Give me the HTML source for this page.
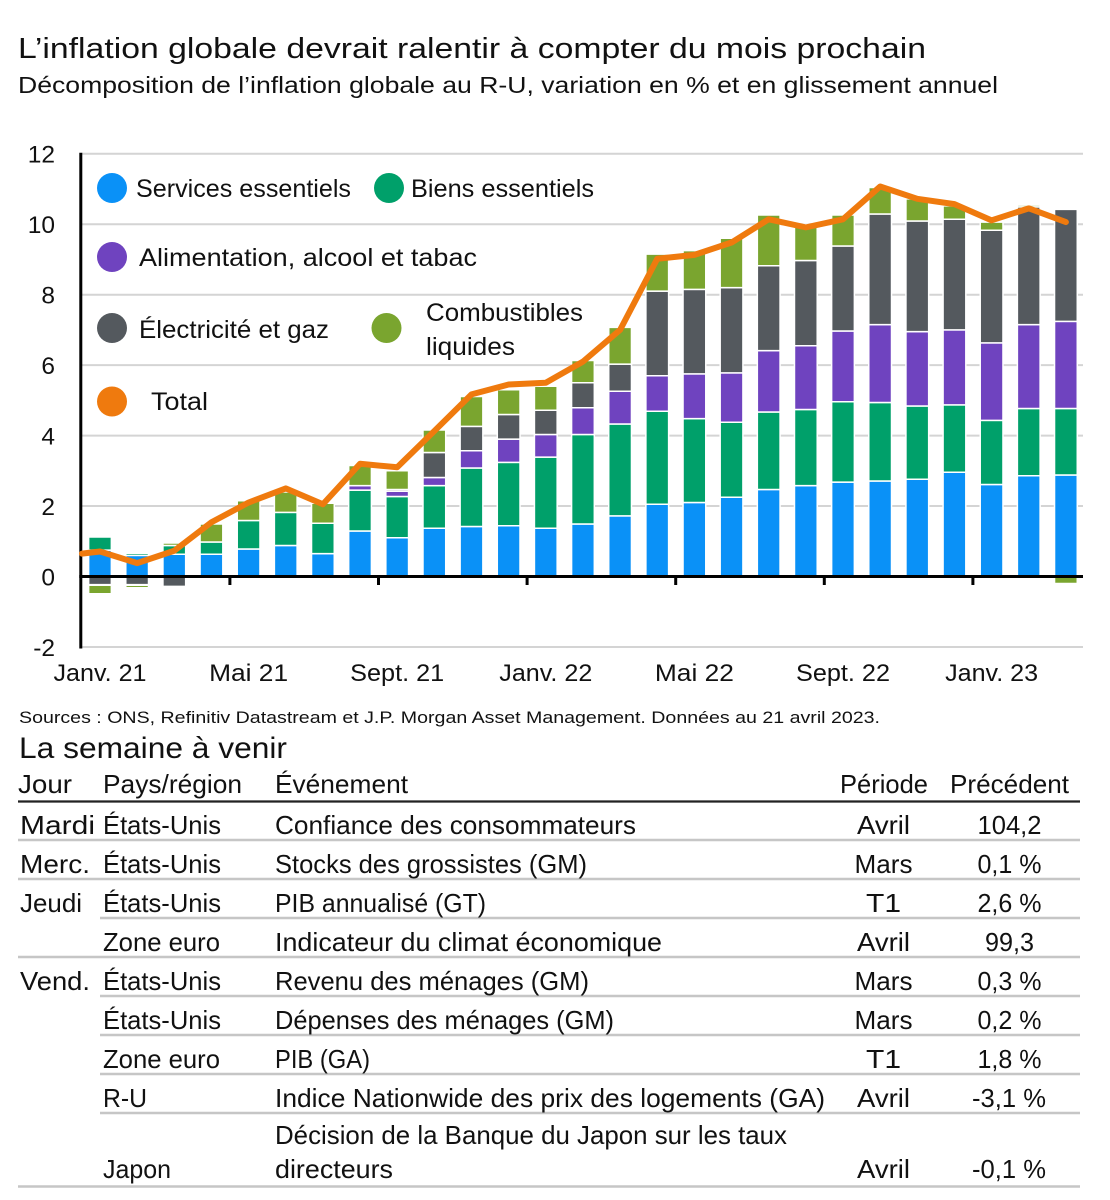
<!DOCTYPE html>
<html>
<head>
<meta charset="utf-8">
<style>
  html,body{margin:0;padding:0;background:#fff;}
  svg{display:block;}
  .b{fill:#0A91F7}
  .g{fill:#00A06A}
  .p{fill:#6F43BF}
  .k{fill:#54595E}
  .o{fill:#7AA52F}
  .bars rect{stroke:#fff;stroke-width:1.5;vector-effect:non-scaling-stroke;}
  text{fill:#111;}
</style>
</head>
<body>
<svg width="1110" height="1200" viewBox="0 0 1110 1200" xmlns="http://www.w3.org/2000/svg" font-family="'Liberation Sans', Arial, sans-serif">
  <rect x="0" y="0" width="1110" height="1200" fill="#fff"/>

  <!-- Title -->
  <text x="18" y="58" font-size="29" textLength="908" lengthAdjust="spacingAndGlyphs">L’inflation globale devrait ralentir à compter du mois prochain</text>
  <text x="18" y="93" font-size="23" textLength="980" lengthAdjust="spacingAndGlyphs">Décomposition de l’inflation globale au R-U, variation en % et en glissement annuel</text>

  <!-- Gridlines -->
  <g stroke="#D4D4D4" stroke-width="2">
    <line x1="82" y1="153.7" x2="1083" y2="153.7"/>
    <line x1="82" y1="224.2" x2="1083" y2="224.2"/>
    <line x1="82" y1="294.7" x2="1083" y2="294.7"/>
    <line x1="82" y1="365.1" x2="1083" y2="365.1"/>
    <line x1="82" y1="435.6" x2="1083" y2="435.6"/>
    <line x1="82" y1="506.0" x2="1083" y2="506.0"/>
    <line x1="82" y1="647.0" x2="1083" y2="647.0"/>
  </g>

  <!-- Y labels -->
  <g font-size="24.5" text-anchor="end">
    <text x="55" y="162.5">12</text>
    <text x="55" y="233">10</text>
    <text x="55" y="303.5">8</text>
    <text x="55" y="374">6</text>
    <text x="55" y="444.5">4</text>
    <text x="55" y="515">2</text>
    <text x="55" y="585.5">0</text>
    <text x="55" y="656">-2</text>
  </g>

  <!-- Bars and line (data coordinates) -->
  <g class="bars" transform="translate(100,576.5) scale(37.15,-35.23)">
    <!-- 0 -->
    <rect class="b" x="-0.306" y="0" width="0.612" height="0.75"/>
    <rect class="g" x="-0.306" y="0.75" width="0.612" height="0.37"/>
    <rect class="k" x="-0.306" y="-0.23" width="0.612" height="0.23"/>
    <rect class="o" x="-0.306" y="-0.49" width="0.612" height="0.24"/>
    <!-- 1 -->
    <rect class="b" x="0.694" y="0" width="0.612" height="0.6"/>
    <rect class="g" x="0.694" y="0.6" width="0.612" height="0.06"/>
    <rect class="k" x="0.694" y="-0.23" width="0.612" height="0.23"/>
    <rect class="o" x="0.694" y="-0.32" width="0.612" height="0.07"/>
    <!-- 2 -->
    <rect class="b" x="1.694" y="0" width="0.612" height="0.63"/>
    <rect class="g" x="1.694" y="0.63" width="0.612" height="0.25"/>
    <rect class="o" x="1.694" y="0.88" width="0.612" height="0.07"/>
    <rect class="k" x="1.694" y="-0.28" width="0.612" height="0.28"/>
    <!-- 3 -->
    <rect class="b" x="2.694" y="0" width="0.612" height="0.63"/>
    <rect class="g" x="2.694" y="0.63" width="0.612" height="0.35"/>
    <rect class="o" x="2.694" y="0.98" width="0.612" height="0.51"/>
    <!-- 4 -->
    <rect class="b" x="3.694" y="0" width="0.612" height="0.78"/>
    <rect class="g" x="3.694" y="0.78" width="0.612" height="0.81"/>
    <rect class="o" x="3.694" y="1.59" width="0.612" height="0.56"/>
    <!-- 5 -->
    <rect class="b" x="4.694" y="0" width="0.612" height="0.88"/>
    <rect class="g" x="4.694" y="0.88" width="0.612" height="0.94"/>
    <rect class="o" x="4.694" y="1.82" width="0.612" height="0.58"/>
    <!-- 6 -->
    <rect class="b" x="5.694" y="0" width="0.612" height="0.65"/>
    <rect class="g" x="5.694" y="0.65" width="0.612" height="0.86"/>
    <rect class="o" x="5.694" y="1.51" width="0.612" height="0.57"/>
    <!-- 7 -->
    <rect class="b" x="6.694" y="0" width="0.612" height="1.29"/>
    <rect class="g" x="6.694" y="1.29" width="0.612" height="1.16"/>
    <rect class="p" x="6.694" y="2.45" width="0.612" height="0.13"/>
    <rect class="o" x="6.694" y="2.58" width="0.612" height="0.57"/>
    <!-- 8 -->
    <rect class="b" x="7.694" y="0" width="0.612" height="1.1"/>
    <rect class="g" x="7.694" y="1.1" width="0.612" height="1.17"/>
    <rect class="p" x="7.694" y="2.27" width="0.612" height="0.15"/>
    <rect class="k" x="7.694" y="2.42" width="0.612" height="0.05"/>
    <rect class="o" x="7.694" y="2.47" width="0.612" height="0.53"/>
    <!-- 9 -->
    <rect class="b" x="8.694" y="0" width="0.612" height="1.37"/>
    <rect class="g" x="8.694" y="1.37" width="0.612" height="1.21"/>
    <rect class="p" x="8.694" y="2.58" width="0.612" height="0.23"/>
    <rect class="k" x="8.694" y="2.81" width="0.612" height="0.71"/>
    <rect class="o" x="8.694" y="3.52" width="0.612" height="0.64"/>
    <!-- 10 -->
    <rect class="b" x="9.694" y="0" width="0.612" height="1.42"/>
    <rect class="g" x="9.694" y="1.42" width="0.612" height="1.66"/>
    <rect class="p" x="9.694" y="3.08" width="0.612" height="0.49"/>
    <rect class="k" x="9.694" y="3.57" width="0.612" height="0.69"/>
    <rect class="o" x="9.694" y="4.26" width="0.612" height="0.85"/>
    <!-- 11 -->
    <rect class="b" x="10.694" y="0" width="0.612" height="1.44"/>
    <rect class="g" x="10.694" y="1.44" width="0.612" height="1.8"/>
    <rect class="p" x="10.694" y="3.24" width="0.612" height="0.66"/>
    <rect class="k" x="10.694" y="3.9" width="0.612" height="0.7"/>
    <rect class="o" x="10.694" y="4.6" width="0.612" height="0.7"/>
    <!-- 12 -->
    <rect class="b" x="11.694" y="0" width="0.612" height="1.37"/>
    <rect class="g" x="11.694" y="1.37" width="0.612" height="2.02"/>
    <rect class="p" x="11.694" y="3.39" width="0.612" height="0.64"/>
    <rect class="k" x="11.694" y="4.03" width="0.612" height="0.69"/>
    <rect class="o" x="11.694" y="4.72" width="0.612" height="0.68"/>
    <!-- 13 -->
    <rect class="b" x="12.694" y="0" width="0.612" height="1.49"/>
    <rect class="g" x="12.694" y="1.49" width="0.612" height="2.54"/>
    <rect class="p" x="12.694" y="4.03" width="0.612" height="0.76"/>
    <rect class="k" x="12.694" y="4.79" width="0.612" height="0.71"/>
    <rect class="o" x="12.694" y="5.5" width="0.612" height="0.63"/>
    <!-- 14 -->
    <rect class="b" x="13.694" y="0" width="0.612" height="1.72"/>
    <rect class="g" x="13.694" y="1.72" width="0.612" height="2.61"/>
    <rect class="p" x="13.694" y="4.33" width="0.612" height="0.93"/>
    <rect class="k" x="13.694" y="5.26" width="0.612" height="0.77"/>
    <rect class="o" x="13.694" y="6.03" width="0.612" height="1.04"/>
    <!-- 15 -->
    <rect class="b" x="14.694" y="0" width="0.612" height="2.05"/>
    <rect class="g" x="14.694" y="2.05" width="0.612" height="2.64"/>
    <rect class="p" x="14.694" y="4.69" width="0.612" height="1.01"/>
    <rect class="k" x="14.694" y="5.7" width="0.612" height="2.4"/>
    <rect class="o" x="14.694" y="8.1" width="0.612" height="1.05"/>
    <!-- 16 -->
    <rect class="b" x="15.694" y="0" width="0.612" height="2.1"/>
    <rect class="g" x="15.694" y="2.1" width="0.612" height="2.38"/>
    <rect class="p" x="15.694" y="4.48" width="0.612" height="1.27"/>
    <rect class="k" x="15.694" y="5.75" width="0.612" height="2.4"/>
    <rect class="o" x="15.694" y="8.15" width="0.612" height="1.1"/>
    <!-- 17 -->
    <rect class="b" x="16.694" y="0" width="0.612" height="2.25"/>
    <rect class="g" x="16.694" y="2.25" width="0.612" height="2.13"/>
    <rect class="p" x="16.694" y="4.38" width="0.612" height="1.4"/>
    <rect class="k" x="16.694" y="5.78" width="0.612" height="2.42"/>
    <rect class="o" x="16.694" y="8.2" width="0.612" height="1.4"/>
    <!-- 18 -->
    <rect class="b" x="17.694" y="0" width="0.612" height="2.47"/>
    <rect class="g" x="17.694" y="2.47" width="0.612" height="2.2"/>
    <rect class="p" x="17.694" y="4.67" width="0.612" height="1.74"/>
    <rect class="k" x="17.694" y="6.41" width="0.612" height="2.41"/>
    <rect class="o" x="17.694" y="8.82" width="0.612" height="1.44"/>
    <!-- 19 -->
    <rect class="b" x="18.694" y="0" width="0.612" height="2.58"/>
    <rect class="g" x="18.694" y="2.58" width="0.612" height="2.16"/>
    <rect class="p" x="18.694" y="4.74" width="0.612" height="1.81"/>
    <rect class="k" x="18.694" y="6.55" width="0.612" height="2.42"/>
    <rect class="o" x="18.694" y="8.97" width="0.612" height="1.03"/>
    <!-- 20 -->
    <rect class="b" x="19.694" y="0" width="0.612" height="2.68"/>
    <rect class="g" x="19.694" y="2.68" width="0.612" height="2.28"/>
    <rect class="p" x="19.694" y="4.96" width="0.612" height="2.01"/>
    <rect class="k" x="19.694" y="6.97" width="0.612" height="2.41"/>
    <rect class="o" x="19.694" y="9.38" width="0.612" height="0.88"/>
    <!-- 21 -->
    <rect class="b" x="20.694" y="0" width="0.612" height="2.71"/>
    <rect class="g" x="20.694" y="2.71" width="0.612" height="2.23"/>
    <rect class="p" x="20.694" y="4.94" width="0.612" height="2.21"/>
    <rect class="k" x="20.694" y="7.15" width="0.612" height="3.14"/>
    <rect class="o" x="20.694" y="10.29" width="0.612" height="0.75"/>
    <!-- 22 -->
    <rect class="b" x="21.694" y="0" width="0.612" height="2.76"/>
    <rect class="g" x="21.694" y="2.76" width="0.612" height="2.08"/>
    <rect class="p" x="21.694" y="4.84" width="0.612" height="2.11"/>
    <rect class="k" x="21.694" y="6.95" width="0.612" height="3.14"/>
    <rect class="o" x="21.694" y="10.09" width="0.612" height="0.63"/>
    <!-- 23 -->
    <rect class="b" x="22.694" y="0" width="0.612" height="2.96"/>
    <rect class="g" x="22.694" y="2.96" width="0.612" height="1.91"/>
    <rect class="p" x="22.694" y="4.87" width="0.612" height="2.13"/>
    <rect class="k" x="22.694" y="7.0" width="0.612" height="3.14"/>
    <rect class="o" x="22.694" y="10.14" width="0.612" height="0.38"/>
    <!-- 24 -->
    <rect class="b" x="23.694" y="0" width="0.612" height="2.61"/>
    <rect class="g" x="23.694" y="2.61" width="0.612" height="1.82"/>
    <rect class="p" x="23.694" y="4.43" width="0.612" height="2.2"/>
    <rect class="k" x="23.694" y="6.63" width="0.612" height="3.2"/>
    <rect class="o" x="23.694" y="9.83" width="0.612" height="0.23"/>
    <!-- 25 -->
    <rect class="b" x="24.694" y="0" width="0.612" height="2.86"/>
    <rect class="g" x="24.694" y="2.86" width="0.612" height="1.91"/>
    <rect class="p" x="24.694" y="4.77" width="0.612" height="2.38"/>
    <rect class="k" x="24.694" y="7.15" width="0.612" height="3.34"/>
    <rect class="o" x="24.694" y="10.49" width="0.612" height="0.05"/>
    <!-- 26 -->
    <rect class="b" x="25.694" y="0" width="0.612" height="2.88"/>
    <rect class="g" x="25.694" y="2.88" width="0.612" height="1.89"/>
    <rect class="p" x="25.694" y="4.77" width="0.612" height="2.47"/>
    <rect class="k" x="25.694" y="7.24" width="0.612" height="3.18"/>
    <rect class="o" x="25.694" y="-0.2" width="0.612" height="0.2"/>
  </g>

  <!-- Axes -->
  <line x1="80.8" y1="152.7" x2="80.8" y2="648.5" stroke="#000" stroke-width="3"/>
  <line x1="79.3" y1="576.5" x2="1083" y2="576.5" stroke="#000" stroke-width="3"/>
  <g stroke="#000" stroke-width="3">
    <line x1="229.9" y1="576.5" x2="229.9" y2="585"/>
    <line x1="378.5" y1="576.5" x2="378.5" y2="585"/>
    <line x1="527.1" y1="576.5" x2="527.1" y2="585"/>
    <line x1="675.7" y1="576.5" x2="675.7" y2="585"/>
    <line x1="824.3" y1="576.5" x2="824.3" y2="585"/>
    <line x1="972.9" y1="576.5" x2="972.9" y2="585"/>
  </g>

  <!-- Total line -->
  <g transform="translate(100,576.5) scale(37.15,-35.23)">
    <polyline fill="none" stroke="#EF7A0E" stroke-width="6" stroke-linejoin="round" stroke-linecap="round" vector-effect="non-scaling-stroke"
      points="-0.485,0.65 0,0.71 1,0.38 2,0.73 3,1.54 4,2.1 5,2.5 6,2.05 7,3.2 8,3.1 9,4.13 10,5.17 11,5.45 12,5.5 13,6.1 14,7.0 15,9.02 16,9.13 17,9.48 18,10.14 19,9.91 20,10.14 21,11.07 22,10.72 23,10.57 24,10.11 25,10.45 26,10.06"/>
  </g>

  <!-- X labels -->
  <g font-size="24">
    <text x="53.5" y="681" textLength="93" lengthAdjust="spacingAndGlyphs">Janv. 21</text>
    <text x="209.1" y="681" textLength="79" lengthAdjust="spacingAndGlyphs">Mai 21</text>
    <text x="350.2" y="681" textLength="94" lengthAdjust="spacingAndGlyphs">Sept. 21</text>
    <text x="499.3" y="681" textLength="93" lengthAdjust="spacingAndGlyphs">Janv. 22</text>
    <text x="654.9" y="681" textLength="79" lengthAdjust="spacingAndGlyphs">Mai 22</text>
    <text x="796" y="681" textLength="94" lengthAdjust="spacingAndGlyphs">Sept. 22</text>
    <text x="945.1" y="681" textLength="93" lengthAdjust="spacingAndGlyphs">Janv. 23</text>
  </g>

  <!-- Legend -->
  <circle cx="112" cy="188" r="15" class="b"/>
  <circle cx="389" cy="188" r="15" class="g"/>
  <circle cx="112" cy="257" r="15" class="p"/>
  <circle cx="112" cy="328" r="15" class="k"/>
  <circle cx="386.5" cy="328" r="15" class="o"/>
  <circle cx="112" cy="401.5" r="15" fill="#EF7A0E"/>
  <g font-size="25">
    <text x="136" y="197" textLength="215" lengthAdjust="spacingAndGlyphs">Services essentiels</text>
    <text x="411" y="197" textLength="183" lengthAdjust="spacingAndGlyphs">Biens essentiels</text>
    <text x="139" y="266" textLength="338" lengthAdjust="spacingAndGlyphs">Alimentation, alcool et tabac</text>
    <text x="139" y="338" textLength="190" lengthAdjust="spacingAndGlyphs">Électricité et gaz</text>
    <text x="426" y="321" textLength="157" lengthAdjust="spacingAndGlyphs">Combustibles</text>
    <text x="426" y="355" textLength="89" lengthAdjust="spacingAndGlyphs">liquides</text>
    <text x="151" y="410" textLength="57" lengthAdjust="spacingAndGlyphs">Total</text>
  </g>

  <!-- Sources -->
  <text x="19" y="723" font-size="17" textLength="861" lengthAdjust="spacingAndGlyphs">Sources : ONS, Refinitiv Datastream et J.P. Morgan Asset Management. Données au 21 avril 2023.</text>

  <!-- Table title -->
  <text x="19" y="758" font-size="30" textLength="268" lengthAdjust="spacingAndGlyphs">La semaine à venir</text>

  <!-- Table header -->
  <g font-size="26">
    <text x="18" y="793" textLength="54" lengthAdjust="spacingAndGlyphs">Jour</text>
    <text x="103" y="793" textLength="139" lengthAdjust="spacingAndGlyphs">Pays/région</text>
    <text x="275" y="793" textLength="133" lengthAdjust="spacingAndGlyphs">Événement</text>
    <text x="840" y="793" textLength="88" lengthAdjust="spacingAndGlyphs">Période</text>
    <text x="950" y="793" textLength="119" lengthAdjust="spacingAndGlyphs">Précédent</text>
  </g>
  <line x1="18" y1="801.5" x2="1080" y2="801.5" stroke="#222" stroke-width="2.2"/>

  <!-- Table row separators -->
  <g stroke="#C6C6C6" stroke-width="2.5">
    <line x1="18" y1="840" x2="1080" y2="840"/>
    <line x1="18" y1="879" x2="1080" y2="879"/>
    <line x1="100" y1="918" x2="1080" y2="918"/>
    <line x1="18" y1="957" x2="1080" y2="957"/>
    <line x1="100" y1="996" x2="1080" y2="996"/>
    <line x1="100" y1="1035" x2="1080" y2="1035"/>
    <line x1="100" y1="1074" x2="1080" y2="1074"/>
    <line x1="100" y1="1113" x2="1080" y2="1113"/>
    <line x1="18" y1="1186.5" x2="1080" y2="1186.5"/>
  </g>

  <!-- Table rows -->
  <g font-size="26">
    <!-- Row 1 -->
    <text x="20" y="834" textLength="75" lengthAdjust="spacingAndGlyphs">Mardi</text>
    <text x="103" y="834" textLength="118" lengthAdjust="spacingAndGlyphs">États-Unis</text>
    <text x="275" y="834" textLength="361" lengthAdjust="spacingAndGlyphs">Confiance des consommateurs</text>
    <text x="857" y="834" textLength="53" lengthAdjust="spacingAndGlyphs">Avril</text>
    <text x="977.5" y="834" textLength="64" lengthAdjust="spacingAndGlyphs">104,2</text>
    <!-- Row 2 -->
    <text x="20" y="873" textLength="70" lengthAdjust="spacingAndGlyphs">Merc.</text>
    <text x="103" y="873" textLength="118" lengthAdjust="spacingAndGlyphs">États-Unis</text>
    <text x="275" y="873" textLength="312" lengthAdjust="spacingAndGlyphs">Stocks des grossistes (GM)</text>
    <text x="854.5" y="873" textLength="58" lengthAdjust="spacingAndGlyphs">Mars</text>
    <text x="977.5" y="873" textLength="64" lengthAdjust="spacingAndGlyphs">0,1 %</text>
    <!-- Row 3 -->
    <text x="20" y="912" textLength="62" lengthAdjust="spacingAndGlyphs">Jeudi</text>
    <text x="103" y="912" textLength="118" lengthAdjust="spacingAndGlyphs">États-Unis</text>
    <text x="275" y="912" textLength="211" lengthAdjust="spacingAndGlyphs">PIB annualisé (GT)</text>
    <text x="866" y="912" textLength="35" lengthAdjust="spacingAndGlyphs">T1</text>
    <text x="977.5" y="912" textLength="64" lengthAdjust="spacingAndGlyphs">2,6 %</text>
    <!-- Row 4 -->
    <text x="103" y="951" textLength="117" lengthAdjust="spacingAndGlyphs">Zone euro</text>
    <text x="275" y="951" textLength="387" lengthAdjust="spacingAndGlyphs">Indicateur du climat économique</text>
    <text x="857" y="951" textLength="53" lengthAdjust="spacingAndGlyphs">Avril</text>
    <text x="985" y="951" textLength="49" lengthAdjust="spacingAndGlyphs">99,3</text>
    <!-- Row 5 -->
    <text x="20" y="990" textLength="70" lengthAdjust="spacingAndGlyphs">Vend.</text>
    <text x="103" y="990" textLength="118" lengthAdjust="spacingAndGlyphs">États-Unis</text>
    <text x="275" y="990" textLength="314" lengthAdjust="spacingAndGlyphs">Revenu des ménages (GM)</text>
    <text x="854.5" y="990" textLength="58" lengthAdjust="spacingAndGlyphs">Mars</text>
    <text x="977.5" y="990" textLength="64" lengthAdjust="spacingAndGlyphs">0,3 %</text>
    <!-- Row 6 -->
    <text x="103" y="1029" textLength="118" lengthAdjust="spacingAndGlyphs">États-Unis</text>
    <text x="275" y="1029" textLength="339" lengthAdjust="spacingAndGlyphs">Dépenses des ménages (GM)</text>
    <text x="854.5" y="1029" textLength="58" lengthAdjust="spacingAndGlyphs">Mars</text>
    <text x="977.5" y="1029" textLength="64" lengthAdjust="spacingAndGlyphs">0,2 %</text>
    <!-- Row 7 -->
    <text x="103" y="1068" textLength="117" lengthAdjust="spacingAndGlyphs">Zone euro</text>
    <text x="275" y="1068" textLength="95" lengthAdjust="spacingAndGlyphs">PIB (GA)</text>
    <text x="866" y="1068" textLength="35" lengthAdjust="spacingAndGlyphs">T1</text>
    <text x="977.5" y="1068" textLength="64" lengthAdjust="spacingAndGlyphs">1,8 %</text>
    <!-- Row 8 -->
    <text x="103" y="1107" textLength="44" lengthAdjust="spacingAndGlyphs">R-U</text>
    <text x="275" y="1107" textLength="550" lengthAdjust="spacingAndGlyphs">Indice Nationwide des prix des logements (GA)</text>
    <text x="857" y="1107" textLength="53" lengthAdjust="spacingAndGlyphs">Avril</text>
    <text x="972" y="1107" textLength="74" lengthAdjust="spacingAndGlyphs">-3,1 %</text>
    <!-- Row 9 -->
    <text x="275" y="1144" textLength="512" lengthAdjust="spacingAndGlyphs">Décision de la Banque du Japon sur les taux</text>
    <text x="103" y="1178" textLength="68" lengthAdjust="spacingAndGlyphs">Japon</text>
    <text x="275" y="1178" textLength="118" lengthAdjust="spacingAndGlyphs">directeurs</text>
    <text x="857" y="1178" textLength="53" lengthAdjust="spacingAndGlyphs">Avril</text>
    <text x="972" y="1178" textLength="74" lengthAdjust="spacingAndGlyphs">-0,1 %</text>
  </g>
</svg>
</body>
</html>
